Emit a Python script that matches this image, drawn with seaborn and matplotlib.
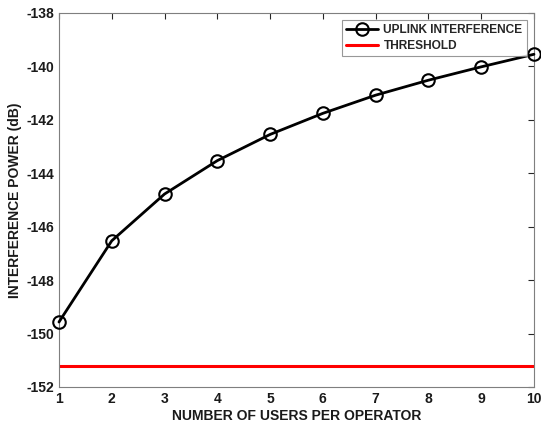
import matplotlib
matplotlib.use("Agg")
import matplotlib.pyplot as plt
import seaborn as sns
import pandas as pd

users = [1, 2, 3, 4, 5, 6, 7, 8, 9, 10]
interference = [-149.57, -146.53, -144.78, -143.53, -142.55, -141.76, -141.08, -140.52, -140.02, -139.55]
threshold = -151.2
xticks = [1, 2, 3, 4, 5, 6, 7, 8, 9, 10]
yticks = [-152, -150, -148, -146, -144, -142, -140, -138]

sns.set_style("white")
plt.rcParams['font.family'] = ['Liberation Sans', 'DejaVu Sans']
plt.rcParams['font.weight'] = 'bold'
plt.rcParams['axes.unicode_minus'] = False

fig = plt.figure(figsize=(5.41, 4.29), dpi=100)
ax = fig.add_axes([0.109, 0.098, 0.878, 0.872])

df = pd.DataFrame({"users": users, "interference": interference})
sns.lineplot(data=df, x="users", y="interference", ax=ax, color="black",
             linewidth=2, marker="o", markersize=9, markerfacecolor="none",
             markeredgecolor="black", markeredgewidth=1.5,
             label="UPLINK INTERFERENCE", clip_on=False, zorder=3)
ax.axhline(threshold, color="#ff0000", linewidth=2.2, label="THRESHOLD")

ax.set_xlim(1, 10)
ax.set_ylim(-152, -138)
ax.set_xticks(xticks)
ax.set_yticks(yticks)
ax.tick_params(direction="in", length=4, width=0.8, colors="#262626",
               labelsize=10, top=True, right=True, labelcolor="#1a1a1a")
for lab in ax.get_xticklabels() + ax.get_yticklabels():
    lab.set_fontweight("bold")
for s in ax.spines.values():
    s.set_color("#7f7f7f")
    s.set_linewidth(0.8)

ax.set_xlabel("NUMBER OF USERS PER OPERATOR", fontsize=10, fontweight="bold", color="#1a1a1a", labelpad=2)
ax.set_ylabel("INTERFERENCE POWER (dB)", fontsize=10, fontweight="bold", color="#1a1a1a", labelpad=3)

leg = ax.legend(loc="upper right", fontsize=8.6, frameon=True, fancybox=False,
                edgecolor="#7f7f7f", handlelength=2.6, handletextpad=0.5,
                borderaxespad=0.6, borderpad=0.35, labelspacing=0.3)
leg.get_frame().set_linewidth(0.8)
for t in leg.get_texts():
    t.set_fontweight("bold")

fig.savefig("out.png", dpi=100)
